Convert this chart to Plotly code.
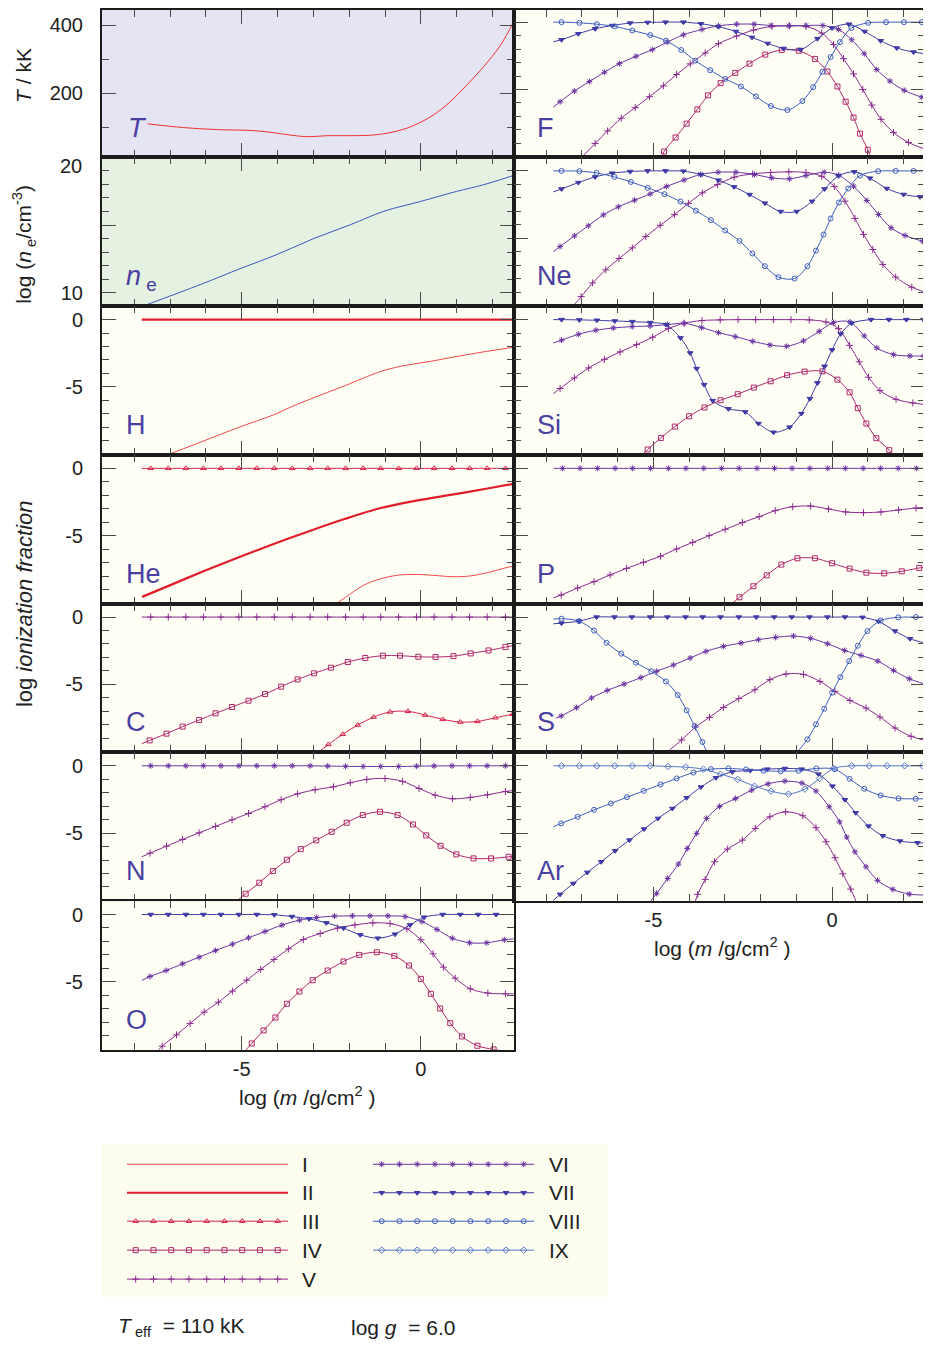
import plotly.graph_objects as go

# ---------------------------------------------------------------- data
# depth scale log(m / g cm^-2) shared by all panels
T_X = [-7.63, -6.63, -5.70, -4.67, -4.12, -3.65, -3.18, -2.63, -1.97, -1.32, -0.86, -0.39, 0.0, 0.35, 0.82, 1.28, 1.75, 2.22, 2.59]
T_KK = [110, 99, 93, 90, 84, 77, 72, 75, 75, 77, 84, 97, 115, 136, 175, 224, 278, 341, 410]

NE_X = [-7.70, -6.16, -5.00, -4.02, -3.00, -1.97, -1.04, 0.0, 1.0, 1.75, 2.59]
NE_LOG = [9.06, 10.59, 11.82, 12.81, 13.99, 15.02, 16.01, 16.75, 17.49, 17.98, 18.67]

STD_X = [-7.79, -7.54, -7.05, -6.56, -6.07, -5.58, -5.08, -4.58, -4.09, -3.59, -3.09, -2.60,
         -2.10, -1.61, -1.12, -0.62, -0.12, 0.37, 0.87, 1.36, 1.85, 2.36, 2.60]
FLAT_Y = [0, 0, 0, 0, 0, 0, 0, 0, 0, 0, 0, 0, 0, 0, 0, 0, 0, 0, 0, 0, 0, 0, 0]

H_II_X = [-7.79, 2.60]
H_II_Y = [0, 0]
H_I_X = [-7.79, -7.05, -6.07, -5.08, -4.09, -3.59, -3.10, -2.60, -2.11, -1.61, -1.12, -0.62, -0.13, 0.37, 0.87, 1.36, 1.86, 2.35, 2.60]
H_I_Y = [-10.8, -10.03, -9.02, -8.0, -7.05, -6.45, -5.92, -5.4, -4.9, -4.35, -3.85, -3.5, -3.27, -3.05, -2.8, -2.57, -2.35, -2.15, -2.05]

HE_II_X = [-7.78, -7.06, -6.07, -5.08, -4.09, -3.10, -2.11, -1.12, -0.13, 0.87, 1.86, 2.60]
HE_II_Y = [-9.55, -8.75, -7.65, -6.6, -5.6, -4.65, -3.75, -2.95, -2.4, -1.95, -1.5, -1.14]
HE_I_X = [-3.6, -2.6, -2.11, -1.61, -1.12, -0.62, -0.13, 0.37, 0.87, 1.36, 1.86, 2.35, 2.60]
HE_I_Y = [-13.5, -10.6, -9.6, -8.7, -8.2, -7.93, -7.88, -7.95, -8.05, -8.0, -7.75, -7.4, -7.25]

C_IV_X = [-7.79, -7.57, -7.10, -6.65, -6.19, -5.73, -5.27, -4.81, -4.35, -3.90, -3.44, -2.98, -2.51, -2.04, -1.55, -1.06, -0.58, -0.07, 0.41, 0.91, 1.39, 1.89, 2.36, 2.60]
C_IV_Y = [-9.41, -9.16, -8.66, -8.14, -7.65, -7.15, -6.68, -6.21, -5.72, -5.17, -4.63, -4.18, -3.76, -3.34, -3.04, -2.87, -2.87, -2.95, -2.97, -2.90, -2.70, -2.48, -2.23, -2.10]
C_III_X = [-2.91, -2.58, -2.18, -1.76, -1.32, -0.86, -0.36, 0.12, 0.61, 1.10, 1.58, 2.08, 2.56, 2.62]
C_III_Y = [-10.15, -9.46, -8.71, -8.02, -7.43, -7.05, -7.00, -7.28, -7.60, -7.80, -7.75, -7.48, -7.22, -7.20]

N_VI_Y = [0, 0, 0, 0, 0, 0, 0, 0, 0, 0, 0, -0.02, -0.04, -0.05, -0.05, -0.05, -0.03, -0.01, 0, 0, 0, 0, 0]
N_V_X = [-7.79, -7.56, -7.10, -6.65, -6.19, -5.73, -5.27, -4.81, -4.35, -3.90, -3.44, -2.95, -2.44, -1.97, -1.51, -1.00, -0.51, -0.05, 0.40, 0.88, 1.38, 1.86, 2.36, 2.60]
N_V_Y = [-6.76, -6.49, -5.97, -5.47, -4.98, -4.50, -4.01, -3.54, -3.04, -2.52, -2.08, -1.78, -1.56, -1.26, -1.01, -0.94, -1.16, -1.68, -2.18, -2.45, -2.35, -2.15, -1.91, -1.83]
N_IV_X = [-5.19, -4.89, -4.51, -4.13, -3.74, -3.35, -2.92, -2.49, -2.07, -1.62, -1.14, -0.65, -0.22, 0.15, 0.55, 0.99, 1.47, 1.96, 2.45, 2.60]
N_IV_Y = [-10.15, -9.50, -8.69, -7.82, -6.98, -6.19, -5.54, -4.90, -4.23, -3.66, -3.42, -3.66, -4.36, -5.17, -5.94, -6.58, -6.88, -6.88, -6.76, -6.73]

O_VII_X = [-7.79, -7.54, -7.05, -6.56, -6.07, -5.58, -5.08, -4.58, -4.09, -3.60, -3.12, -2.64, -2.16, -1.69, -1.20, -0.72, -0.30, 0.09, 0.61, 1.10, 1.60, 2.10, 2.60]
O_VII_Y = [0, 0, 0, 0, 0, 0, 0, 0, -0.02, -0.15, -0.32, -0.62, -1.01, -1.51, -1.76, -1.46, -0.77, -0.20, 0, 0, 0, 0, 0]
O_VI_X = [-7.79, -7.56, -7.11, -6.65, -6.19, -5.73, -5.26, -4.81, -4.35, -3.88, -3.39, -2.91, -2.41, -1.91, -1.42, -0.92, -0.44, 0.03, 0.45, 0.88, 1.36, 1.84, 2.33, 2.59]
O_VI_Y = [-4.90, -4.60, -4.16, -3.66, -3.17, -2.67, -2.20, -1.73, -1.26, -0.79, -0.42, -0.22, -0.12, -0.10, -0.10, -0.10, -0.15, -0.52, -1.11, -1.76, -2.10, -2.10, -1.88, -1.81]
O_V_X = [-7.37, -7.22, -6.82, -6.44, -6.05, -5.65, -5.26, -4.86, -4.47, -4.10, -3.69, -3.28, -2.81, -2.33, -1.84, -1.34, -0.86, -0.39, 0.00, 0.34, 0.63, 0.96, 1.38, 1.87, 2.36, 2.59]
O_V_Y = [-10.22, -9.78, -8.94, -8.09, -7.25, -6.51, -5.69, -4.88, -4.08, -3.34, -2.55, -1.86, -1.41, -1.01, -0.77, -0.62, -0.67, -1.06, -1.88, -2.92, -3.91, -4.73, -5.52, -5.84, -5.89, -5.89]
O_IV_X = [-4.95, -4.72, -4.39, -4.06, -3.74, -3.39, -3.02, -2.60, -2.16, -1.72, -1.23, -0.74, -0.33, 0.00, 0.28, 0.54, 0.82, 1.15, 1.58, 2.03, 2.59]
O_IV_Y = [-10.27, -9.58, -8.61, -7.65, -6.63, -5.72, -4.88, -4.16, -3.49, -3.00, -2.80, -3.07, -3.79, -4.78, -5.89, -6.98, -8.07, -9.06, -9.75, -10.02, -10.22]

F_VIII_X = [-7.80, -7.57, -7.07, -6.58, -6.08, -5.59, -5.09, -4.65, -4.22, -3.83, -3.41, -2.99, -2.55, -2.13, -1.71, -1.25, -0.83, -0.53, -0.27, -0.04, 0.22, 0.54, 1.01, 1.51, 2.01, 2.51, 2.60]
F_VIII_Y = [0.0, 0.0, -0.05, -0.15, -0.32, -0.62, -0.96, -1.38, -2.07, -2.86, -3.57, -4.21, -4.78, -5.52, -6.23, -6.53, -5.86, -4.83, -3.69, -2.59, -1.48, -0.44, -0.05, 0.0, 0.0, 0.0, 0.0]
F_VII_X = [-7.80, -7.57, -7.10, -6.63, -6.15, -5.65, -5.16, -4.66, -4.16, -3.67, -3.18, -2.69, -2.24, -1.80, -1.36, -0.88, -0.41, 0.00, 0.47, 0.91, 1.36, 1.81, 2.28, 2.60]
F_VII_Y = [-1.45, -1.31, -0.86, -0.49, -0.25, -0.07, -0.02, 0.0, 0.0, -0.12, -0.34, -0.69, -1.13, -1.58, -1.95, -2.04, -1.23, -0.44, -0.15, -0.69, -1.38, -1.92, -2.22, -2.34]
F_VI_X = [-7.80, -7.61, -7.21, -6.79, -6.37, -5.95, -5.49, -5.03, -4.61, -4.16, -3.64, -3.18, -2.67, -2.18, -1.71, -1.21, -0.73, -0.26, 0.18, 0.55, 0.90, 1.25, 1.62, 2.02, 2.51, 2.60]
F_VI_Y = [-6.31, -5.91, -5.12, -4.41, -3.72, -3.08, -2.54, -2.04, -1.48, -0.94, -0.54, -0.27, -0.15, -0.15, -0.25, -0.27, -0.25, -0.25, -0.54, -1.31, -2.34, -3.52, -4.38, -5.07, -5.57, -5.62]
F_V_X = [-7.05, -6.63, -6.28, -5.90, -5.51, -5.11, -4.72, -4.35, -3.97, -3.55, -3.18, -2.67, -2.20, -1.68, -1.19, -0.73, -0.29, 0.04, 0.32, 0.60, 0.86, 1.11, 1.37, 1.72, 2.14, 2.60]
F_V_Y = [-10.15, -9.01, -8.08, -7.14, -6.35, -5.54, -4.73, -3.89, -3.10, -2.29, -1.60, -1.03, -0.59, -0.32, -0.27, -0.32, -0.81, -1.67, -2.71, -3.84, -5.00, -6.16, -7.22, -8.20, -8.94, -9.43]
F_IV_X = [-4.79, -4.70, -4.38, -4.07, -3.77, -3.47, -3.12, -2.71, -2.31, -1.87, -1.41, -0.93, -0.48, -0.13, 0.15, 0.38, 0.60, 0.78, 1.00, 1.11]
F_IV_Y = [-10.17, -9.61, -8.57, -7.54, -6.48, -5.44, -4.53, -3.77, -3.08, -2.41, -2.07, -2.12, -2.73, -3.67, -4.78, -5.91, -7.09, -8.28, -9.48, -10.30]

NE_VIII_X = [-7.80, -7.57, -7.07, -6.59, -6.09, -5.63, -5.16, -4.69, -4.24, -3.81, -3.39, -2.99, -2.59, -2.23, -1.88, -1.50, -1.05, -0.69, -0.45, -0.24, -0.04, 0.19, 0.45, 0.78, 1.29, 1.78, 2.28, 2.60]
NE_VIII_Y = [0.0, 0.0, -0.02, -0.15, -0.45, -0.82, -1.26, -1.73, -2.28, -2.95, -3.66, -4.43, -5.20, -6.14, -7.08, -7.90, -8.00, -7.08, -5.92, -4.73, -3.54, -2.35, -1.31, -0.35, -0.02, 0.0, 0.0, 0.0]
NE_VII_X = [-7.80, -7.57, -7.10, -6.63, -6.15, -5.65, -5.16, -4.66, -4.16, -3.67, -3.18, -2.74, -2.31, -1.88, -1.44, -0.99, -0.56, -0.21, 0.18, 0.62, 1.06, 1.53, 2.00, 2.46, 2.60]
NE_VII_Y = [-1.56, -1.34, -0.87, -0.45, -0.17, -0.05, 0.0, 0.0, -0.02, -0.27, -0.69, -1.19, -1.76, -2.40, -3.02, -3.02, -2.26, -1.34, -0.37, -0.07, -0.54, -1.31, -1.75, -1.93, -1.95]
NE_VI_X = [-7.80, -7.61, -7.21, -6.82, -6.40, -5.98, -5.53, -5.09, -4.63, -4.14, -3.68, -3.19, -2.69, -2.17, -1.69, -1.19, -0.73, -0.22, 0.18, 0.60, 0.97, 1.30, 1.65, 2.04, 2.53, 2.60]
NE_VI_Y = [-6.01, -5.62, -4.83, -4.08, -3.27, -2.67, -2.18, -1.71, -1.16, -0.67, -0.27, -0.10, -0.10, -0.27, -0.52, -0.59, -0.35, -0.10, -0.32, -1.14, -2.20, -3.24, -4.23, -4.80, -5.22, -5.27]
NE_V_X = [-7.30, -7.02, -6.70, -6.33, -5.96, -5.59, -5.21, -4.81, -4.41, -4.02, -3.63, -3.21, -2.74, -2.22, -1.72, -1.21, -0.73, -0.29, 0.06, 0.36, 0.64, 0.88, 1.14, 1.42, 1.78, 2.23, 2.60]
NE_V_Y = [-10.20, -9.34, -8.32, -7.35, -6.51, -5.72, -4.88, -4.04, -3.25, -2.41, -1.63, -1.02, -0.47, -0.22, -0.12, -0.07, -0.12, -0.40, -1.16, -2.25, -3.53, -4.72, -5.84, -6.95, -7.89, -8.64, -9.01]

SI_VII_X = [-7.80, -7.57, -7.07, -6.58, -6.08, -5.59, -5.09, -4.65, -4.24, -3.97, -3.79, -3.58, -3.34, -2.90, -2.43, -2.06, -1.64, -1.19, -0.86, -0.62, -0.41, -0.21, 0.00, 0.24, 0.55, 1.09, 1.59, 2.08, 2.56, 2.62]
SI_VII_Y = [0.0, 0.0, -0.02, -0.05, -0.10, -0.15, -0.22, -0.37, -1.36, -2.48, -3.64, -4.83, -6.02, -6.63, -6.86, -7.72, -8.37, -7.99, -6.98, -5.87, -4.70, -3.47, -2.25, -1.06, -0.27, 0.0, 0.0, 0.0, 0.0, 0.0]
SI_VI_X = [-7.80, -7.57, -7.10, -6.61, -6.12, -5.59, -5.09, -4.60, -4.14, -3.65, -3.18, -2.71, -2.22, -1.74, -1.27, -0.80, -0.36, 0.04, 0.50, 0.90, 1.25, 1.72, 2.18, 2.56, 2.62]
SI_VI_Y = [-1.73, -1.53, -1.09, -0.79, -0.62, -0.52, -0.47, -0.37, -0.27, -0.59, -0.97, -1.26, -1.61, -1.88, -1.98, -1.58, -0.87, -0.22, -0.17, -1.21, -2.10, -2.60, -2.70, -2.70, -2.70]
SI_V_X = [-7.80, -7.61, -7.21, -6.81, -6.37, -5.93, -5.47, -5.02, -4.58, -4.14, -3.64, -3.13, -2.63, -2.14, -1.64, -1.15, -0.64, -0.17, 0.18, 0.49, 0.76, 1.02, 1.34, 1.79, 2.26, 2.60]
SI_V_Y = [-5.50, -5.12, -4.33, -3.59, -2.95, -2.40, -1.86, -1.31, -0.67, -0.27, -0.07, -0.02, 0.0, 0.0, 0.0, 0.0, -0.02, -0.17, -0.67, -1.91, -3.14, -4.28, -5.27, -5.92, -6.19, -6.31]
SI_IV_X = [-5.40, -5.16, -4.79, -4.40, -4.00, -3.57, -3.12, -2.64, -2.19, -1.72, -1.26, -0.77, -0.27, 0.15, 0.49, 0.72, 0.96, 1.24, 1.60, 1.76]
SI_IV_Y = [-10.3, -9.65, -8.79, -7.95, -7.18, -6.53, -5.99, -5.54, -5.05, -4.58, -4.13, -3.86, -3.84, -4.46, -5.40, -6.58, -7.72, -8.81, -9.70, -10.4]

P_V_X = [-7.80, -7.58, -7.12, -6.66, -6.21, -5.75, -5.28, -4.80, -4.35, -3.90, -3.44, -2.99, -2.51, -2.04, -1.59, -1.10, -0.60, -0.10, 0.38, 0.88, 1.37, 1.86, 2.35, 2.60]
P_V_Y = [-9.63, -9.41, -8.89, -8.42, -7.92, -7.43, -6.98, -6.53, -5.99, -5.50, -5.00, -4.53, -4.03, -3.59, -3.14, -2.85, -2.80, -3.02, -3.24, -3.29, -3.24, -3.09, -2.95, -2.90]
P_IV_X = [-2.85, -2.59, -2.20, -1.83, -1.42, -0.97, -0.48, 0.00, 0.49, 0.96, 1.46, 1.95, 2.44, 2.60]
P_IV_Y = [-10.15, -9.58, -8.76, -7.95, -7.15, -6.68, -6.68, -7.05, -7.45, -7.75, -7.80, -7.65, -7.40, -7.35]

S_VIII_X = [-7.80, -7.57, -7.08, -6.66, -6.31, -5.90, -5.49, -5.06, -4.65, -4.32, -4.07, -3.85, -3.63, -3.41, -3.00, -2.00, -1.30, -1.13, -0.69, -0.45, -0.22, 0.00, 0.23, 0.48, 0.72, 0.99, 1.36, 1.85, 2.34, 2.60]
S_VIII_Y = [-0.15, -0.12, -0.30, -1.01, -1.91, -2.72, -3.39, -4.03, -4.78, -5.79, -6.93, -8.09, -9.28, -10.47, -11.6, -12.2, -11.3, -10.57, -9.08, -7.97, -6.81, -5.62, -4.46, -3.27, -2.13, -1.04, -0.25, -0.02, 0.0, 0.0]
S_VII_X = [-7.80, -7.57, -7.08, -6.59, -6.09, -5.60, -5.09, -4.61, -4.10, -3.62, -3.12, -2.61, -2.12, -1.62, -1.13, -0.63, -0.13, 0.36, 0.85, 1.30, 1.76, 2.18, 2.60]
S_VII_Y = [-0.50, -0.45, -0.30, 0, 0, 0, 0, 0, 0, 0, 0, 0, 0, 0, 0, 0, 0, 0, -0.02, -0.32, -1.04, -1.61, -1.93]
S_VI_X = [-7.73, -7.58, -7.15, -6.73, -6.29, -5.82, -5.35, -4.91, -4.44, -3.97, -3.53, -3.04, -2.55, -2.06, -1.58, -1.08, -0.60, -0.13, 0.35, 0.81, 1.28, 1.72, 2.16, 2.60]
S_VI_Y = [-7.50, -7.35, -6.73, -6.01, -5.45, -4.98, -4.50, -4.03, -3.56, -3.04, -2.55, -2.18, -1.93, -1.68, -1.51, -1.41, -1.58, -1.98, -2.48, -2.85, -3.27, -3.96, -4.58, -4.98]
S_V_X = [-4.67, -4.21, -3.82, -3.43, -3.04, -2.61, -2.16, -1.74, -1.29, -0.80, -0.34, 0.08, 0.50, 0.95, 1.34, 1.76, 2.21, 2.60]
S_V_Y = [-10.15, -9.13, -8.17, -7.45, -6.71, -6.06, -5.40, -4.65, -4.23, -4.26, -4.78, -5.52, -6.19, -6.76, -7.43, -8.24, -8.86, -9.16]

AR_IX_X = [-7.80, -7.57, -7.07, -6.58, -6.08, -5.59, -5.09, -4.59, -4.10, -3.60, -3.12, -2.64, -2.17, -1.71, -1.22, -0.76, -0.35, 0.04, 0.55, 1.04, 1.54, 2.03, 2.53, 2.62]
AR_IX_Y = [0, 0, 0, 0, 0, 0, 0, -0.05, -0.10, -0.25, -0.62, -1.01, -1.51, -1.88, -2.10, -1.73, -0.94, -0.20, 0, 0, 0, 0, 0, 0]
AR_VIII_X = [-7.80, -7.58, -7.12, -6.66, -6.19, -5.74, -5.27, -4.80, -4.35, -3.88, -3.39, -2.90, -2.41, -1.92, -1.44, -0.94, -0.44, 0.08, 0.49, 0.90, 1.36, 1.86, 2.34, 2.60]
AR_VIII_Y = [-4.53, -4.28, -3.79, -3.27, -2.80, -2.33, -1.86, -1.39, -0.94, -0.50, -0.25, -0.20, -0.27, -0.37, -0.40, -0.37, -0.20, -0.25, -0.97, -1.71, -2.20, -2.43, -2.45, -2.45]
AR_VII_X = [-7.80, -7.61, -7.24, -6.85, -6.46, -6.07, -5.67, -5.26, -4.87, -4.47, -4.07, -3.67, -3.25, -2.79, -2.29, -1.81, -1.32, -0.85, -0.38, 0.01, 0.36, 0.66, 1.02, 1.42, 1.90, 2.39, 2.60]
AR_VII_Y = [-10.0, -9.55, -8.74, -7.92, -7.13, -6.31, -5.52, -4.70, -3.91, -3.17, -2.38, -1.58, -0.89, -0.45, -0.35, -0.25, -0.20, -0.25, -0.62, -1.51, -2.52, -3.49, -4.48, -5.20, -5.59, -5.72, -5.74]
AR_VI_X = [-5.09, -4.91, -4.60, -4.30, -4.05, -3.79, -3.51, -3.15, -2.70, -2.25, -1.79, -1.32, -0.84, -0.45, -0.08, 0.21, 0.41, 0.64, 0.95, 1.27, 1.70, 2.16, 2.60]
AR_VI_Y = [-10.1, -9.48, -8.37, -7.30, -6.14, -5.02, -3.91, -3.02, -2.43, -1.81, -1.34, -1.14, -1.29, -1.88, -3.04, -4.16, -5.30, -6.39, -7.50, -8.51, -9.18, -9.53, -9.60]
AR_V_X = [-3.83, -3.76, -3.55, -3.29, -2.93, -2.51, -2.15, -1.74, -1.30, -0.82, -0.45, -0.17, 0.08, 0.30, 0.52, 0.69]
AR_V_Y = [-10.1, -9.55, -8.44, -7.13, -6.19, -5.52, -4.65, -3.79, -3.42, -3.71, -4.60, -5.64, -6.83, -8.02, -9.16, -10.2]

ION_NAMES = ["I", "II", "III", "IV", "V", "VI", "VII", "VIII", "IX"]

# ---------------------------------------------------------------- styles
W, H = 931, 1346
OFF = 8            # page body margin that the browser adds around the plot div
ROW_TOP = 6.7
ROW_H = 148.95
COLS = {"L": (102, 514), "R": (514, 925)}
X_RANGE = [-8.9, 2.6]
ION_RANGE = [-10.05, 1.0]

FONT = "Liberation Sans, Arial, Helvetica, sans-serif"
TEXT_C = "#222222"
FRAME_C = "#1c1c1c"
TICK_C = "#4a4a4a"
LABEL_C = "#4a40a2"
ION_BG = "#fefef4"
T_BG = "#e4e4f2"
NE_BG = "#e5f1e1"
TICK_SIZE = 20
MARKER_SIZE = 5

# colour, line width, marker symbol
ION_STYLE = {
    "I": ("#f04848", 1.0, None),
    "II": ("#e01e2a", 2.2, None),
    "III": ("#d3224c", 1.0, "triangle-up-open"),
    "IV": ("#b0286a", 1.0, "square-open"),
    "V": ("#8a2a90", 1.0, "cross-thin-open"),
    "VI": ("#6a34a4", 1.0, "asterisk-open"),
    "VII": ("#3f3aa6", 1.0, "triangle-down"),
    "VIII": ("#3f5cc0", 1.0, "circle-open"),
    "IX": ("#5577cc", 1.0, "diamond-open"),
}

PANELS = [
    ("H", "L", 2, [("I", H_I_X, H_I_Y), ("II", H_II_X, H_II_Y)]),
    ("He", "L", 3, [("I", HE_I_X, HE_I_Y), ("II", HE_II_X, HE_II_Y), ("III", STD_X, FLAT_Y)]),
    ("C", "L", 4, [("III", C_III_X, C_III_Y), ("IV", C_IV_X, C_IV_Y), ("V", STD_X, FLAT_Y)]),
    ("N", "L", 5, [("IV", N_IV_X, N_IV_Y), ("V", N_V_X, N_V_Y), ("VI", STD_X, N_VI_Y)]),
    ("O", "L", 6, [("IV", O_IV_X, O_IV_Y), ("V", O_V_X, O_V_Y), ("VI", O_VI_X, O_VI_Y),
                   ("VII", O_VII_X, O_VII_Y)]),
    ("F", "R", 0, [("IV", F_IV_X, F_IV_Y), ("V", F_V_X, F_V_Y), ("VI", F_VI_X, F_VI_Y),
                   ("VII", F_VII_X, F_VII_Y), ("VIII", F_VIII_X, F_VIII_Y)]),
    ("Ne", "R", 1, [("V", NE_V_X, NE_V_Y), ("VI", NE_VI_X, NE_VI_Y), ("VII", NE_VII_X, NE_VII_Y),
                    ("VIII", NE_VIII_X, NE_VIII_Y)]),
    ("Si", "R", 2, [("IV", SI_IV_X, SI_IV_Y), ("V", SI_V_X, SI_V_Y), ("VI", SI_VI_X, SI_VI_Y),
                    ("VII", SI_VII_X, SI_VII_Y)]),
    ("P", "R", 3, [("IV", P_IV_X, P_IV_Y), ("V", P_V_X, P_V_Y), ("VI", STD_X, FLAT_Y)]),
    ("S", "R", 4, [("V", S_V_X, S_V_Y), ("VI", S_VI_X, S_VI_Y), ("VII", S_VII_X, S_VII_Y),
                   ("VIII", S_VIII_X, S_VIII_Y)]),
    ("Ar", "R", 5, [("V", AR_V_X, AR_V_Y), ("VI", AR_VI_X, AR_VI_Y), ("VII", AR_VII_X, AR_VII_Y),
                    ("VIII", AR_VIII_X, AR_VIII_Y), ("IX", AR_IX_X, AR_IX_Y)]),
]


def fx(px):
    return min(1.0, max(0.0, (px - OFF) / W))


def fy(py):
    return min(1.0, max(0.0, 1 - (py - OFF) / H))


def add_axes(fig, n, col, row, yrange, ytickvals, yticktext, yminor, xlabels):
    x0, x1 = COLS[col]
    top = ROW_TOP + row * ROW_H
    yr = list(yrange)
    if top < OFF:
        # the very top strip falls outside the page: trim the range to match
        yr[1] = yr[1] - (OFF - top) * (yr[1] - yr[0]) / ROW_H
    sfx = "" if n == 1 else str(n)
    common = dict(
        ticks="inside", ticklen=14, tickwidth=1.3, tickcolor=TICK_C,
        showline=True, linecolor=FRAME_C, linewidth=2, mirror="ticks",
        showgrid=False, zeroline=False, tickmode="array",
        tickfont=dict(size=TICK_SIZE, color=TEXT_C, family=FONT),
    )
    fig.update_layout(**{
        "xaxis" + sfx: dict(
            domain=[fx(x0), fx(x1)], range=X_RANGE, anchor="y" + sfx,
            tickvals=[-5, 0], ticktext=["-5", "0"], showticklabels=xlabels,
            ticklabelstandoff=0,
            minor=dict(ticks="inside", ticklen=7, tickwidth=1.3, tickcolor=TICK_C,
                       tickmode="linear", tick0=0, dtick=1, showgrid=False),
            **common),
        "yaxis" + sfx: dict(
            domain=[fy(top + ROW_H), fy(top)], range=yr, anchor="x" + sfx,
            tickvals=ytickvals, ticktext=yticktext, showticklabels=(col == "L"),
            ticklabelstandoff=13,
            minor=dict(ticks="inside", ticklen=7, tickwidth=1.3, tickcolor=TICK_C,
                       tickmode="linear", tick0=0, dtick=yminor, showgrid=False),
            **common),
    })
    return sfx, top


def add_curve(fig, sfx, ion, xs, ys):
    color, width, symbol = ION_STYLE[ion]
    fig.add_trace(go.Scatter(
        x=xs, y=ys, mode="lines", xaxis="x" + sfx, yaxis="y" + sfx,
        line=dict(color=color, width=width, shape="spline", smoothing=0.9),
        showlegend=False, hoverinfo="skip"))
    if symbol:
        # first and last points only anchor the line ends
        fig.add_trace(go.Scatter(
            x=xs[1:-1], y=ys[1:-1], mode="markers", xaxis="x" + sfx, yaxis="y" + sfx,
            marker=dict(symbol=symbol, size=MARKER_SIZE, color=color,
                        line=dict(color=color, width=1)),
            showlegend=False, hoverinfo="skip"))


fig = go.Figure()
annotations = []
shapes = []


def label(text, x, y, size=21, color=TEXT_C, xanchor="center", angle=0):
    annotations.append(dict(
        text=text, x=fx(x), y=fy(y), xref="paper", yref="paper", showarrow=False,
        xanchor=xanchor, yanchor="middle", textangle=angle,
        font=dict(size=size, color=color, family=FONT)))


# temperature panel
sfx, top = add_axes(fig, 1, "L", 0, [11, 449], [200, 400], ["200", "400"], 100, False)
fig.add_trace(go.Scatter(x=T_X, y=T_KK, mode="lines", xaxis="x", yaxis="y",
                         line=dict(color="#ee3030", width=1, shape="spline"),
                         showlegend=False, hoverinfo="skip"))
shapes.append(dict(type="rect", xref="x domain", yref="y domain", x0=0, x1=1, y0=0, y1=1,
                   fillcolor=T_BG, line=dict(width=0), layer="below"))
label("<i>T</i>", 126, top + 119, size=27, color=LABEL_C, xanchor="left")

# electron density panel
sfx, top = add_axes(fig, 2, "L", 1, [9.0, 20.0], [10, 15], ["10", ""], 1, False)
fig.add_trace(go.Scatter(x=NE_X, y=NE_LOG, mode="lines", xaxis="x2", yaxis="y2",
                         line=dict(color="#3a58c0", width=1, shape="spline"),
                         showlegend=False, hoverinfo="skip"))
shapes.append(dict(type="rect", xref="x2 domain", yref="y2 domain", x0=0, x1=1, y0=0, y1=1,
                   fillcolor=NE_BG, line=dict(width=0), layer="below"))
label("<i>n</i><sub> e</sub>", 124, top + 121, size=27, color=LABEL_C, xanchor="left")
label("20", 84, 164, size=TICK_SIZE, xanchor="right")

# ionization panels
for i, (elem, col, row, curves) in enumerate(PANELS):
    n = i + 3
    bottom_row = (col == "L" and row == 6) or (col == "R" and row == 5)
    sfx, top = add_axes(fig, n, col, row, ION_RANGE, [-5, 0], ["-5", "0"], 1, bottom_row)
    for ion, xs, ys in curves:
        add_curve(fig, sfx, ion, xs, ys)
    label(elem, 124 if col == "L" else 535, top + 119, size=27, color=LABEL_C, xanchor="left")

# axis titles
label("<i>T</i> / kK", 24, 74, angle=-90)
label("log (<i>n</i><sub> e</sub>/cm<sup>-3</sup>)", 24, 243, angle=-90)
label("log <i>ionization fraction</i>", 24, 603, size=22, angle=-90)
label("log (<i>m</i> /g/cm<sup>2</sup> )", 307, 1096)
label("log (<i>m</i> /g/cm<sup>2</sup> )", 722, 946)

# legend box drawn as its own small subplot
LEG = (102, 608, 1143, 1297)
fig.update_layout(
    xaxis16=dict(domain=[fx(LEG[0]), fx(LEG[1])], range=[0, LEG[1] - LEG[0]], visible=False,
                 anchor="y16"),
    yaxis16=dict(domain=[fy(LEG[3]), fy(LEG[2])], range=[LEG[3] - LEG[2], 0], visible=False,
                 anchor="x16"),
)
shapes.append(dict(type="rect", xref="x16 domain", yref="y16 domain", x0=0, x1=1, y0=0, y1=1,
                   fillcolor="#fcfcef", line=dict(width=0), layer="below"))
leg_rows = [21, 49.5, 78, 107, 136]
for k, ion in enumerate(ION_NAMES):
    color, width, symbol = ION_STYLE[ion]
    c, r = (0, k) if k < 5 else (1, k - 5)
    lx0 = 25 if c == 0 else 271
    yy = leg_rows[r]
    fig.add_trace(go.Scatter(x=[lx0, lx0 + 161], y=[yy, yy], mode="lines", xaxis="x16", yaxis="y16",
                             line=dict(color=color, width=width), showlegend=False, hoverinfo="skip"))
    if symbol:
        mx = [lx0 + 8.7 + 17.75 * j for j in range(9)]
        fig.add_trace(go.Scatter(x=mx, y=[yy] * 9, mode="markers", xaxis="x16", yaxis="y16",
                                 marker=dict(symbol=symbol, size=MARKER_SIZE, color=color,
                                             line=dict(color=color, width=1)),
                                 showlegend=False, hoverinfo="skip"))
    label(ion, (300 if c == 0 else 547), LEG[2] + yy, size=21, xanchor="left")

label("<i>T</i><sub> eff</sub>  = 110 kK", 116, 1327, size=21, xanchor="left")
label("log <i>g</i>  = 6.0", 349, 1327, size=21, xanchor="left")

fig.update_layout(
    width=W, height=H,
    margin=dict(l=0, r=0, t=0, b=0),
    paper_bgcolor="white",
    plot_bgcolor=ION_BG,
    font=dict(family=FONT, color=TEXT_C),
    showlegend=False,
    annotations=annotations,
    shapes=shapes,
)

fig.write_html("out.html")
